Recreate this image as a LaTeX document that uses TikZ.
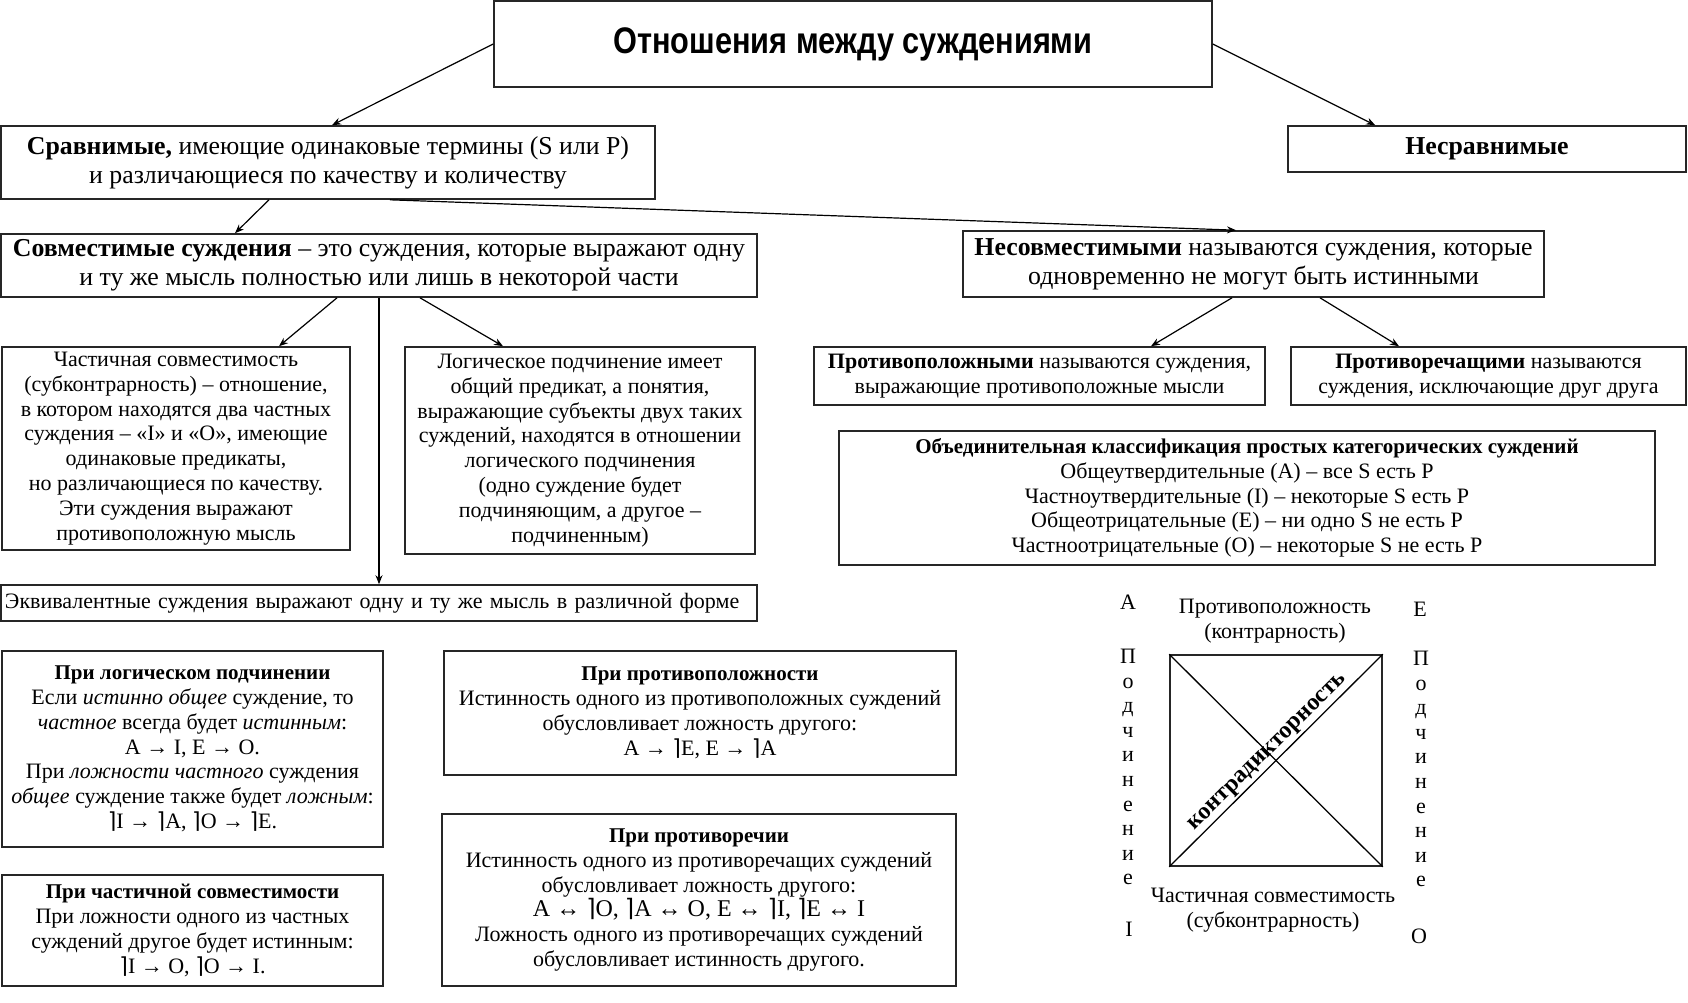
\documentclass[tikz,border=0pt]{standalone}
\usepackage{fontspec}
\setmainfont{Liberation Serif}
\newfontfamily\titlefont[FakeStretch=0.83]{Liberation Sans}
\newfontfamily\symfont{DejaVu Sans}
\usetikzlibrary{arrows.meta}
\newcommand{\negsym}{{\symfont\char"2309}}
\newcommand{\fs}{\fontsize{22}{24.8}\selectfont}
\newcommand{\fb}{\fontsize{25.8}{29}\selectfont}
\newcommand{\hd}[1]{{\fontsize{21}{24.8}\selectfont\bfseries #1}}
\begin{document}
\begin{tikzpicture}[x=1pt,y=-1pt,
  bx/.style={draw=black!85, line width=1.6pt, inner sep=0pt, align=center, font=\fs},
  bigbx/.style={bx, font=\fb},
  arr/.style={-{Stealth[length=9pt,width=7pt]}, line width=1.2pt},
  lbl/.style={inner sep=0pt, align=center, font=\fs}]
\fill[white] (0,0) rectangle (1688,1002);
\path[use as bounding box] (0,0) rectangle (1688,1002);

\node[bx, minimum width=718pt, minimum height=86pt] (title) at (853,44)
  {\titlefont\bfseries\fontsize{37}{40}\selectfont Отношения между суждениями};

\node[bigbx, minimum width=654pt, minimum height=73pt] (sr) at (328,162.5)
  {\textbf{Сравнимые,} имеющие одинаковые термины (S или P)\\ и различающиеся по качеству и количеству};
\node[bigbx, minimum width=398pt, minimum height=46pt] (nesr) at (1487,149)
  {\textbf{Несравнимые}};

\node[bigbx, minimum width=756pt, minimum height=63pt] (sov) at (379,265.5)
  {\textbf{Совместимые суждения} – это суждения, которые выражают одну\\ и ту же мысль полностью или лишь в некоторой части};
\node[bigbx, minimum width=581pt, minimum height=66pt] (nesov) at (1253.5,264)
  {\textbf{Несовместимыми} называются суждения, которые\\ одновременно не могут быть истинными};

\node[bx, minimum width=348pt, minimum height=203pt] (chast) at (176,448.5)
  {Частичная совместимость\\ (субконтрарность) – отношение,\\ в котором находятся два частных\\ суждения – «I» и «O», имеющие\\ одинаковые предикаты,\\ но различающиеся по качеству.\\ Эти суждения выражают\\ противоположную мысль};
\node[bx, minimum width=350pt, minimum height=207pt] (log) at (580,450.5)
  {Логическое подчинение имеет\\ общий предикат, а понятия,\\ выражающие субъекты двух таких\\ суждений, находятся в отношении\\ логического подчинения\\ (одно суждение будет\\ подчиняющим, а другое –\\ подчиненным)};

\node[bx, minimum width=756pt, minimum height=36pt, text width=748pt, align=left] (ekv) at (379,603)
  {Эквивалентные суждения выражают одну и ту же мысль в различной форме};

\node[bx, minimum width=451pt, minimum height=58pt] (pol) at (1039.5,376)
  {\textbf{Противоположными} называются суждения,\\ выражающие противоположные мысли};
\node[bx, minimum width=395pt, minimum height=58pt] (rech) at (1488.5,376)
  {\textbf{Противоречащими} называются\\ суждения, исключающие друг друга};

\node[bx, minimum width=816pt, minimum height=134pt] (obed) at (1247,498)
  {\hd{Объединительная классификация простых категорических суждений}\\
   Общеутвердительные (A) – все S есть P\\
   Частноутвердительные (I) – некоторые S есть P\\
   Общеотрицательные (E) – ни одно S не есть P\\
   Частноотрицательные (O) – некоторые S не есть P};

\node[bx, minimum width=381pt, minimum height=196pt] (plog) at (192.5,749)
  {\hd{При логическом подчинении}\\
   Если \textit{истинно общее} суждение, то\\
   \textit{частное} всегда будет \textit{истинным}:\\
   A → I, E → O.\\
   При \textit{ложности частного} суждения\\
   \textit{общее} суждение также будет \textit{ложным}:\\
   \negsym I → \negsym A, \negsym O → \negsym E.};
\node[bx, minimum width=381pt, minimum height=111pt] (pchast) at (192.5,930.5)
  {\hd{При частичной совместимости}\\
   При ложности одного из частных\\
   суждений другое будет истинным:\\
   \negsym I → O, \negsym O → I.};
\node[bx, minimum width=512pt, minimum height=124pt] (ppol) at (700,713)
  {\hd{При противоположности}\\
   Истинность одного из противоположных суждений\\
   обусловливает ложность другого:\\
   A → \negsym E, E → \negsym A};
\node[bx, minimum width=514pt, minimum height=172pt] (prech) at (699,900)
  {\hd{При противоречии}\\
   Истинность одного из противоречащих суждений\\
   обусловливает ложность другого:\\
   {\fontsize{24}{24.8}\selectfont A ↔ \negsym O, \negsym A ↔ O, E ↔ \negsym I, \negsym E ↔ I}\\
   Ложность одного из противоречащих суждений\\
   обусловливает истинность другого.};

% square of opposition
\node[draw=black!85, line width=1.6pt, minimum width=212pt, minimum height=211pt, inner sep=0pt] (sq) at (1276,760.5) {};
\draw[line width=1.3pt] (sq.north west) -- (sq.south east);
\draw[line width=1.3pt] (sq.south west) -- node[sloped, above=1pt, inner sep=1pt, font=\fontsize{24}{26}\selectfont\bfseries] (kontr) {контрадикторность} (sq.north east);

\node[lbl] (lA) at (1128,602) {A};
\node[lbl] (lE) at (1420,609) {E};
\node[lbl] (lI) at (1129,929) {I};
\node[lbl] (lO) at (1419,936) {O};
\node[lbl] (top1) at (1275,621) {Противоположность\\ (контрарность)};
\node[lbl] (bot1) at (1273,910) {Частичная совместимость\\ (субконтрарность)};
\node[lbl, font=\fontsize{22}{24.6}\selectfont] (podL) at (1128,767) {П\\о\\д\\ч\\и\\н\\е\\н\\и\\е};
\node[lbl, font=\fontsize{22}{24.6}\selectfont] (podR) at (1421,769) {П\\о\\д\\ч\\и\\н\\е\\н\\и\\е};

% connectors
\draw[arr] (title.west) -- ([xshift=4pt]sr.north);
\draw[arr] (title.east) -- ([xshift=88pt]nesr.north west);
\draw[arr] ([xshift=-59pt]sr.south) -- ([xshift=-144pt]sov.north);
\draw[arr] ([xshift=62pt]sr.south) -- ([xshift=-17.5pt]nesov.north);
\draw[arr] ([xshift=-42pt]sov.south) -- ([xshift=103pt]chast.north);
\draw[arr] (sov.south) -- (ekv.north);
\draw[arr] ([xshift=41pt]sov.south) -- ([xshift=-77pt]log.north);
\draw[arr] ([xshift=-21.5pt]nesov.south) -- ([xshift=111.5pt]pol.north);
\draw[arr] ([xshift=66.5pt]nesov.south) -- ([xshift=-89.5pt]rech.north);
\end{tikzpicture}
\end{document}
